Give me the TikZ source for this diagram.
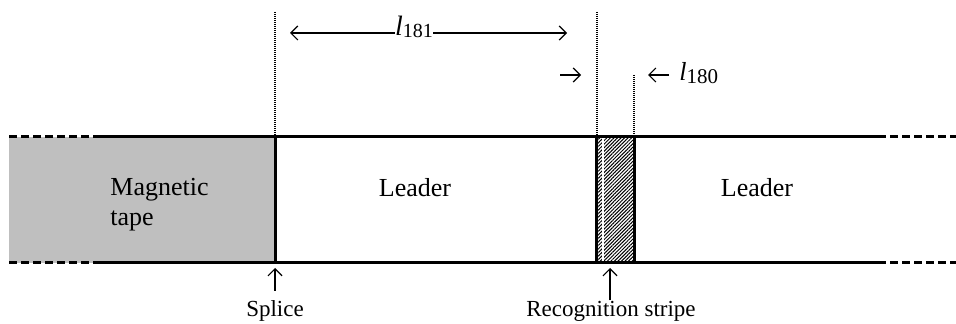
\documentclass[tikz,border=0pt]{standalone}
\usepackage{fontspec}
\setmainfont{Liberation Serif}
\usetikzlibrary{arrows.meta,patterns.meta}
\begin{document}
\begin{tikzpicture}[x=0.5pt,y=-0.5pt,
  main/.style={line width=1.5pt},
  dsh/.style={line width=1.5pt,dash pattern=on 4pt off 2pt},
  dotv/.style={line width=0.6pt,dash pattern=on 0.5pt off 0.5pt},
  arr/.style={line width=0.6pt,-{Straight Barb[length=3.5pt,width=7pt]}},
  lbl/.style={font=\fontsize{13}{15}\selectfont,inner sep=0pt},
  slbl/.style={font=\fontsize{11.5}{14}\selectfont,inner sep=0pt}
]
\useasboundingbox (0,0) rectangle (956,324);
% tape
\fill[black!25] (9,137) rectangle (275,263);
\fill[pattern={Lines[angle=45,distance=1.25pt,line width=0.5pt]}] (596,137) rectangle (634,263);
\draw[white,line width=0.6pt] (603,137) -- (603,263);
% edges
\draw[dsh] (9,137) -- (93,137);
\draw[main] (93,137) -- (878,137);
\draw[dsh] (878,137) -- (956,137);
\draw[dsh] (9,263) -- (93,263);
\draw[main] (93,263) -- (878,263);
\draw[dsh] (878,263) -- (956,263);
\draw[main] (275,137) -- (275,263);
\draw[main] (596,137) -- (596,263);
\draw[main] (634,137) -- (634,263);
% dotted guides
\draw[dotv] (275,12) -- (275,137);
\draw[dotv] (597,12) -- (597,137);
\draw[dotv] (634,75) -- (634,137);
% labels
\node[lbl,anchor=west,align=left] (mt) at (110,205) {Magnetic\\tape};
\node[lbl,anchor=base] (ld1) at (415,197) {Leader};
\node[lbl,anchor=base] (ld2) at (757,197) {Leader};
\node[slbl,anchor=base] (sp) at (275,317) {Splice};
\node[slbl,anchor=base] (rs) at (611,317) {Recognition stripe};
% l181
\node[lbl,anchor=base] (l181) at (414,36) {\fontsize{14}{16}\selectfont\itshape l\raisebox{-1pt}{\upshape\fontsize{10}{12}\selectfont 181}};
\coordinate (a1) at (290,33);
\coordinate (a2) at (567,33);
\draw[arr] (l181.west |- a1) -- (a1);
\draw[arr] (l181.east |- a2) -- (a2);
% l180
\coordinate (b1s) at (560,75);
\coordinate (b1e) at (581,75);
\draw[arr] (b1s) -- (b1e);
\node[lbl,anchor=base west] (l180) at (679,81) {\itshape l\raisebox{-1.5pt}{\upshape\fontsize{10.5}{12}\selectfont 180}};
\coordinate (b2) at (648,75);
\draw[arr] (l180.west |- b2) ++(-10,0) -- (b2);
% splice / stripe arrows
\coordinate (s1) at (275,268);
\coordinate (s2) at (610,268);
\draw[arr] (sp.north |- 0,291) -- (s1);
\draw[arr] (rs.north -| s2) ++(0,-1) -- (s2);
\end{tikzpicture}
\end{document}
